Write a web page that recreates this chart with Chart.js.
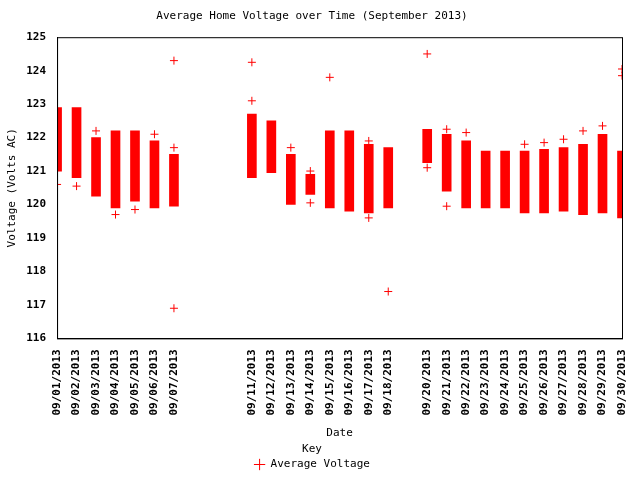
<!DOCTYPE html>
<html>
<head>
<meta charset="utf-8">
<script src="https://cdn.jsdelivr.net/npm/chart.js@4"></script>
<style>
  body { margin: 0; background: #fff; }
  #wrap { width: 640px; height: 480px; }
</style>
</head>
<body>
<div id="wrap"><canvas id="myChart"></canvas></div>
<script>
// day of month for each measured day
const days = [1,2,3,4,5,6,7,11,12,13,14,15,16,17,18,20,21,22,23,24,25,26,27,28,29,30];
// daily range of readings (dense band of markers)
const highs = [122.9,122.9,122.0,122.2,122.2,121.9,121.5,122.7,122.5,121.5,120.9,122.2,122.2,121.8,121.7,122.25,122.1,121.9,121.6,121.6,121.6,121.65,121.7,121.8,122.1,121.6];
const lows  = [121.0,120.8,120.25,119.9,120.1,119.9,119.95,120.8,120.95,120.0,120.3,119.9,119.8,119.75,119.9,121.25,120.4,119.9,119.9,119.9,119.75,119.75,119.8,119.7,119.75,119.6];
// isolated readings outside the bands
const outlierDays  = [1,2,3,4,5,6,7,7,7,11,11,13,14,14,15,17,17,18,20,20,21,21,22,25,26,27,28,29,30,30];
const outlierVolts = [120.6,120.55,122.2,119.7,119.85,122.1,124.3,121.7,116.9,124.25,123.1,121.7,121.0,120.05,123.8,121.9,119.6,117.4,124.5,121.1,122.25,119.95,122.15,121.8,121.85,121.95,122.2,122.35,124.05,123.85];

const red = '#ff0000';
const font = { family: 'DejaVu Sans Mono', size: 11, weight: 'normal' };
Chart.defaults.font = font;
Chart.defaults.color = '#000';

const pad2 = n => (n < 10 ? '0' : '') + n;

const borderBox = {
  id: 'borderBox',
  afterDraw(chart) {
    const a = chart.chartArea, ctx = chart.ctx;
    ctx.save();
    ctx.strokeStyle = '#000';
    ctx.lineWidth = 1;
    ctx.strokeRect(a.left + 0.5, a.top + 0.5, a.right - a.left, a.bottom - a.top);
    ctx.restore();
  }
};

new Chart(document.getElementById('myChart'), {
  type: 'bar',
  data: {
    datasets: [{
      type: 'bar',
      label: 'band',
      data: days.map((d, i) => ({ x: d, y: [lows[i], highs[i]] })),
      backgroundColor: red,
      barThickness: 9,
      borderSkipped: false
    }, {
      type: 'scatter',
      label: 'Average Voltage',
      data: outlierDays.map((d, i) => ({ x: d, y: outlierVolts[i] })),
      pointStyle: 'cross',
      pointRadius: 4,
      borderColor: red,
      backgroundColor: red,
      borderWidth: 1
    }]
  },
  options: {
    responsive: true,
    maintainAspectRatio: false,
    animation: false,
    layout: { padding: { right: 18, left: 2, top: 2, bottom: 0 } },
    plugins: {
      title: { display: true, text: 'Average Home Voltage over Time (September 2013)', font: font, padding: { top: 8, bottom: 14 } },
      legend: {
        position: 'bottom',
        title: { display: true, text: 'Key', font: font, padding: 0 },
        labels: {
          usePointStyle: true,
          font: font,
          boxHeight: 8,
          padding: 2,
          filter: item => item.text === 'Average Voltage'
        }
      },
      tooltip: { enabled: false }
    },
    scales: {
      x: {
        type: 'linear',
        min: 1, max: 30,
        offset: false,
        afterBuildTicks: axis => { axis.ticks = days.map(d => ({ value: d })); },
        ticks: { minRotation: 90, maxRotation: 90, autoSkip: false, font: { family: 'DejaVu Sans Mono', size: 11, weight: 'bold' }, callback: v => '09/' + pad2(v) + '/2013' },
        grid: { display: false, drawTicks: true },
        border: { color: '#000' },
        title: { display: true, text: 'Date', font: font, padding: { top: 8, bottom: 4 } }
      },
      y: {
        min: 116, max: 125,
        ticks: { stepSize: 1, font: { family: 'DejaVu Sans Mono', size: 11, weight: 'bold' } },
        grid: { display: false },
        border: { color: '#000' },
        title: { display: true, text: 'Voltage (Volts AC)', font: font }
      }
    }
  },
  plugins: [borderBox]
});
</script>
</body>
</html>
